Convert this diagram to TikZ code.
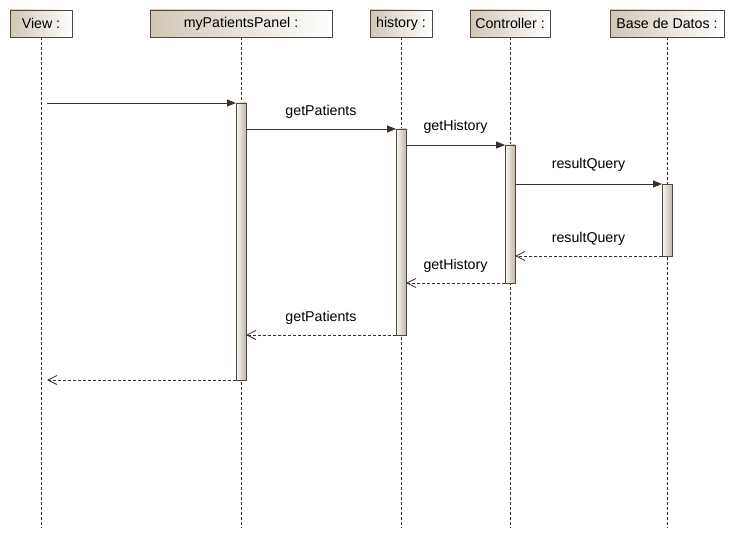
\documentclass[tikz,border=0pt]{standalone}
\usepackage{fontspec}
\setmainfont{Liberation Sans}
\usepackage{tikz}
\usetikzlibrary{arrows.meta}

\definecolor{umlborder}{RGB}{84,70,60}
\definecolor{umltan}{RGB}{208,198,182}
\definecolor{umlline}{RGB}{60,48,40}

\begin{document}
\begin{tikzpicture}[x=1pt, y=-1pt, font=\fontsize{14.2}{16}\selectfont,
    objbox/.style={draw=umlborder, line width=0.9pt, left color=umltan, right color=white,
        minimum height=27pt, inner sep=0pt, outer sep=0pt, anchor=north},
    actbar/.style={draw=umlborder, line width=0.9pt, left color=white!90!umltan, right color=umltan!80!gray,
        minimum width=10pt, inner sep=0pt, outer sep=0pt, anchor=north},
    lifeline/.style={umlline, dash pattern=on 3pt off 2pt, line width=0.6pt},
    callmsg/.style={umlline, line width=0.8pt, -{Triangle[length=9pt,width=7pt]}},
    retmsg/.style={umlline, line width=0.8pt, dash pattern=on 3pt off 2pt, -{Straight Barb[length=9pt,width=9pt]}},
    msglabel/.style={text=black, inner sep=0pt}]
\useasboundingbox (0,0) rectangle (735,540);

% Lifelines with their headers
\foreach \name/\x/\w/\txt in {view/41/62/View :, panel/241/182/myPatientsPanel :, hist/401/62/history :, ctrl/510/80/Controller :, db/667/114/Base de Datos :} {
    \draw[lifeline] (\x,37) -- (\x,528);
    \node[objbox, minimum width=\w pt] (\name) at (\x,10) {\txt};
}

% Activation bars
\node[actbar, minimum height=277pt] (act1) at (241,103) {};
\node[actbar, minimum height=206pt] (act2) at (401,129) {};
\node[actbar, minimum height=138pt] (act3) at (510,145) {};
\node[actbar, minimum height=72pt] (act4) at (667,184) {};

% Free ends on the View lifeline
\coordinate (v1) at (47,103);
\coordinate (v2) at (act1.south west -| v1);

% Calls
\draw[callmsg] (v1) -- (act1.north west);
\draw[callmsg] (act1.east |- act2.north) -- node[msglabel, above=10pt] {getPatients} (act2.north west);
\draw[callmsg] (act2.east |- act3.north) -- node[msglabel, above=11pt] {getHistory} (act3.north west);
\draw[callmsg] (act3.east |- act4.north) -- node[msglabel, above=12pt] {resultQuery} (act4.north west);

% Returns
\draw[retmsg] (act4.south west) -- node[msglabel, above=10pt] {resultQuery} (act3.east |- act4.south);
\draw[retmsg] (act3.south west) -- node[msglabel, above=10pt] {getHistory} (act2.east |- act3.south);
\draw[retmsg] (act2.south west) -- node[msglabel, above=10pt] {getPatients} (act1.east |- act2.south);
\draw[retmsg] (act1.south west) -- (v2);
\end{tikzpicture}
\end{document}
